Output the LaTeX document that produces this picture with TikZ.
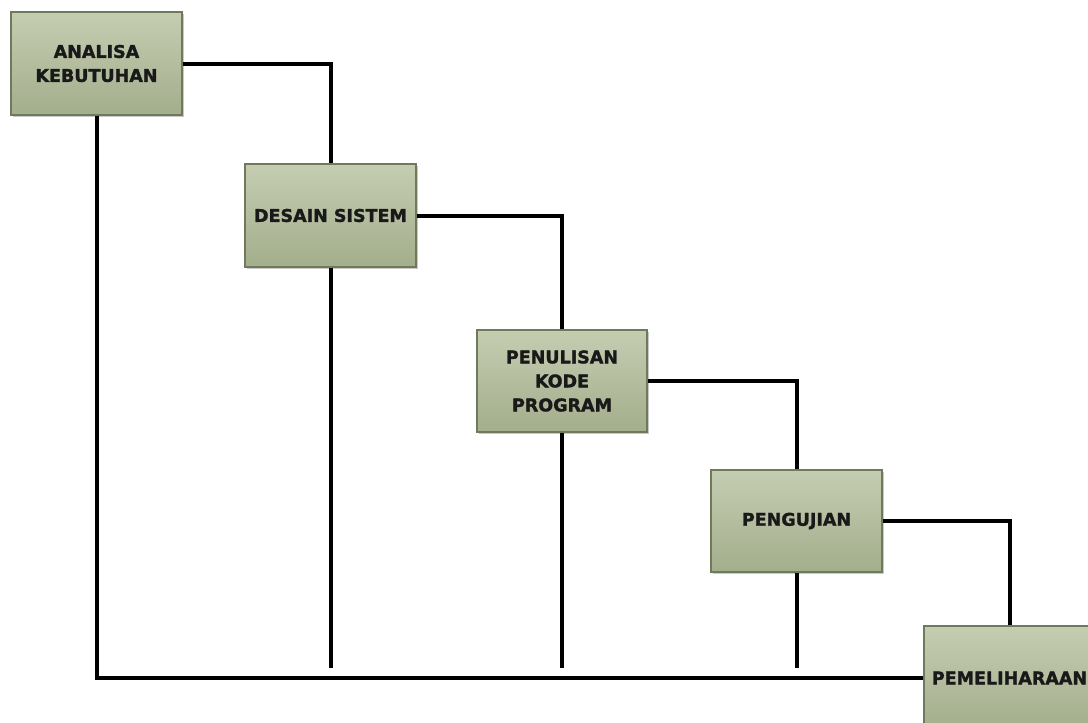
\documentclass[tikz,border=0pt]{standalone}
\usepackage{fontspec}
\setmainfont{DejaVu Sans}[BoldFeatures={FakeBold=1.6}]
\usetikzlibrary{shadows}
\definecolor{boxtop}{HTML}{C5CDB1}
\definecolor{boxbot}{HTML}{A3AE8C}
\definecolor{boxline}{HTML}{6F7A5C}
\tikzset{
  stage/.style={rectangle, draw=boxline, line width=1.2pt, top color=boxtop, bottom color=boxbot,
    minimum width=171pt, minimum height=103pt, inner sep=2pt, align=center,
    font=\fontsize{17.5}{24}\selectfont\bfseries, text=black!90,
    drop shadow={shadow xshift=2pt, shadow yshift=-2pt, opacity=0.35, fill=black!60}},
  link/.style={line width=4pt, draw=black},
}
\begin{document}
\begin{tikzpicture}[x=1pt,y=-1pt]
\clip (0,0) rectangle (1088,723);
\fill[white] (0,0) rectangle (1088,723);
\node[stage] (b1) at (96.5,63.5) {ANALISA\\KEBUTUHAN};
\node[stage] (b2) at (330.5,215.5) {DESAIN SISTEM};
\node[stage, minimum width=170pt, minimum height=102pt] (b3) at (562,381) {PENULISAN\\KODE\\PROGRAM};
\node[stage, minimum height=102pt] (b4) at (796.5,521) {PENGUJIAN};
\node[stage, minimum height=104pt] (b5) at (1009.5,678) {PEMELIHARAAN};
\coordinate (e2) at (330.5,668);
\coordinate (e3) at (562,668);
\coordinate (e4) at (796.5,668);
\draw[link] (b1.east) -| (b2.north);
\draw[link] (b2.east) -| (b3.north);
\draw[link] (b3.east) -| (b4.north);
\draw[link] (b4.east) -| (b5.north);
\draw[link, line join=miter] (b1.south) |- (b5.west);
\draw[link] (b2.south) -- (e2);
\draw[link] (b3.south) -- (e3);
\draw[link] (b4.south) -- (e4);
\end{tikzpicture}
\end{document}
